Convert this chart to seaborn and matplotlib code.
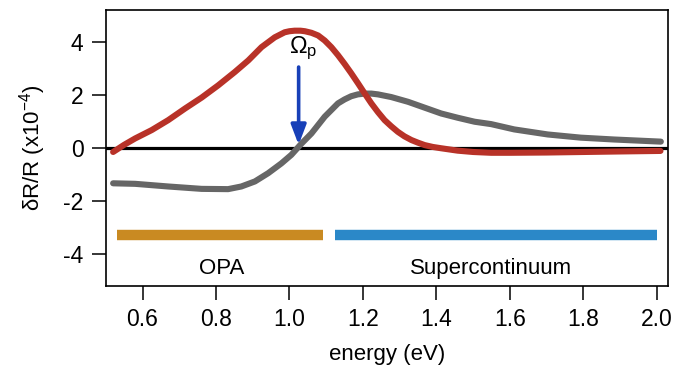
import matplotlib
matplotlib.use("Agg")
import matplotlib.pyplot as plt
import seaborn as sns
import pandas as pd

# ---- data ----
red_x = [0.52, 0.55, 0.58, 0.625, 0.67, 0.716, 0.761, 0.806, 0.851, 0.888, 0.924,
         0.96, 0.987, 1.0, 1.014, 1.03, 1.042, 1.06, 1.078, 1.096, 1.114, 1.132, 1.15,
         1.168, 1.187, 1.205, 1.223, 1.241, 1.259, 1.277, 1.295, 1.313,
         1.332, 1.35, 1.368, 1.39, 1.413, 1.458, 1.5, 1.549, 1.6, 1.7, 1.8, 1.9, 2.01]
red_y = [-0.15, 0.12, 0.36, 0.675, 1.05, 1.49, 1.9, 2.36, 2.86, 3.3, 3.8,
         4.17, 4.36, 4.4, 4.42, 4.42, 4.4, 4.34, 4.24, 4.05, 3.8, 3.5, 3.17,
         2.82, 2.43, 2.05, 1.68, 1.35, 1.05, 0.82, 0.61, 0.44,
         0.3, 0.2, 0.11, 0.04, -0.01, -0.1, -0.15, -0.18, -0.18, -0.17, -0.15, -0.13, -0.11]

gray_x = [0.52, 0.58, 0.67, 0.761, 0.833, 0.869, 0.906, 0.942, 0.978, 1.005,
          1.033, 1.06, 1.096, 1.132, 1.15, 1.168, 1.186, 1.205, 1.223, 1.241, 1.277,
          1.323, 1.368, 1.413, 1.458, 1.504, 1.549, 1.612, 1.703, 1.793, 1.884, 2.011]
gray_y = [-1.33, -1.35, -1.45, -1.54, -1.55, -1.45, -1.26, -0.95, -0.58, -0.26,
          0.17, 0.55, 1.18, 1.68, 1.83, 1.95, 2.02, 2.05, 2.05, 2.02, 1.92,
          1.74, 1.52, 1.3, 1.14, 0.99, 0.9, 0.7, 0.51, 0.39, 0.32, 0.24]

range_labels = ["OPA", "Supercontinuum"]
range_start = [0.53, 1.125]
range_end = [1.09, 2.0]
range_colors = ["#c98a22", "#2b88c8"]

x_ticks = [0.6, 0.8, 1.0, 1.2, 1.4, 1.6, 1.8, 2.0]
y_ticks = [-4, -2, 0, 2, 4]

pump_energy = 1.025

# ---- plot ----
sns.set_theme(style="ticks")
plt.rcParams["font.family"] = ["Liberation Sans", "DejaVu Sans"]
plt.rcParams["mathtext.fontset"] = "custom"
plt.rcParams["mathtext.rm"] = "Liberation Sans"
plt.rcParams["mathtext.it"] = "Liberation Sans:italic"
plt.rcParams["text.color"] = "black"
plt.rcParams["axes.labelcolor"] = "black"

fig = plt.figure(figsize=(6.78, 3.70), dpi=100)
ax = fig.add_axes([0.156, 0.227, 0.829, 0.746])

ax.axhline(0, color="black", lw=2.3, zorder=1)

df_red = pd.DataFrame({"x": red_x, "y": red_y})
df_gray = pd.DataFrame({"x": gray_x, "y": gray_y})
sns.lineplot(data=df_gray, x="x", y="y", ax=ax, color="#666666", lw=4.4,
             sort=False, estimator=None, zorder=2)
sns.lineplot(data=df_red, x="x", y="y", ax=ax, color="#b83228", lw=4.4,
             sort=False, estimator=None, zorder=3)

bar_y = -3.27
for lab, s, e, c in zip(range_labels, range_start, range_end, range_colors):
    ax.plot([s, e], [bar_y, bar_y], color=c, lw=7.5, solid_capstyle="butt", zorder=2)
ax.text(0.815, -4.55, "OPA", ha="center", va="center", fontsize=16)
ax.text(1.55, -4.55, "Supercontinuum", ha="center", va="center", fontsize=16)

ax.annotate("", xy=(pump_energy, 0.12), xytext=(pump_energy, 3.05),
            arrowprops=dict(arrowstyle="-|>,head_length=1.0,head_width=0.38",
                            color="#1840b8", lw=2.6, shrinkA=0, shrinkB=0),
            zorder=4)
ax.text(pump_energy + 0.012, 3.75, r"$\mathregular{\Omega_p}$", ha="center",
        va="center", fontsize=17)

ax.set_xlim(0.5, 2.03)
ax.set_ylim(-5.2, 5.2)
ax.set_xticks(x_ticks)
ax.set_xticklabels([f"{t:.1f}" for t in x_ticks])
ax.set_yticks(y_ticks)
ax.set_yticklabels([str(t) for t in y_ticks])
ax.set_xlabel("energy (eV)", fontsize=16, labelpad=9, color="black")
ax.set_ylabel(r"δR/R (x10$^{\mathregular{-4}}$)", fontsize=16, labelpad=11,
              color="black")
ax.tick_params(axis="both", direction="out", length=10, width=1.1,
               labelsize=16.5, color="black", labelcolor="black", pad=6)
for sp in ax.spines.values():
    sp.set_visible(True)
    sp.set_linewidth(1.2)
    sp.set_color("black")

fig.savefig("out.png", dpi=100)
